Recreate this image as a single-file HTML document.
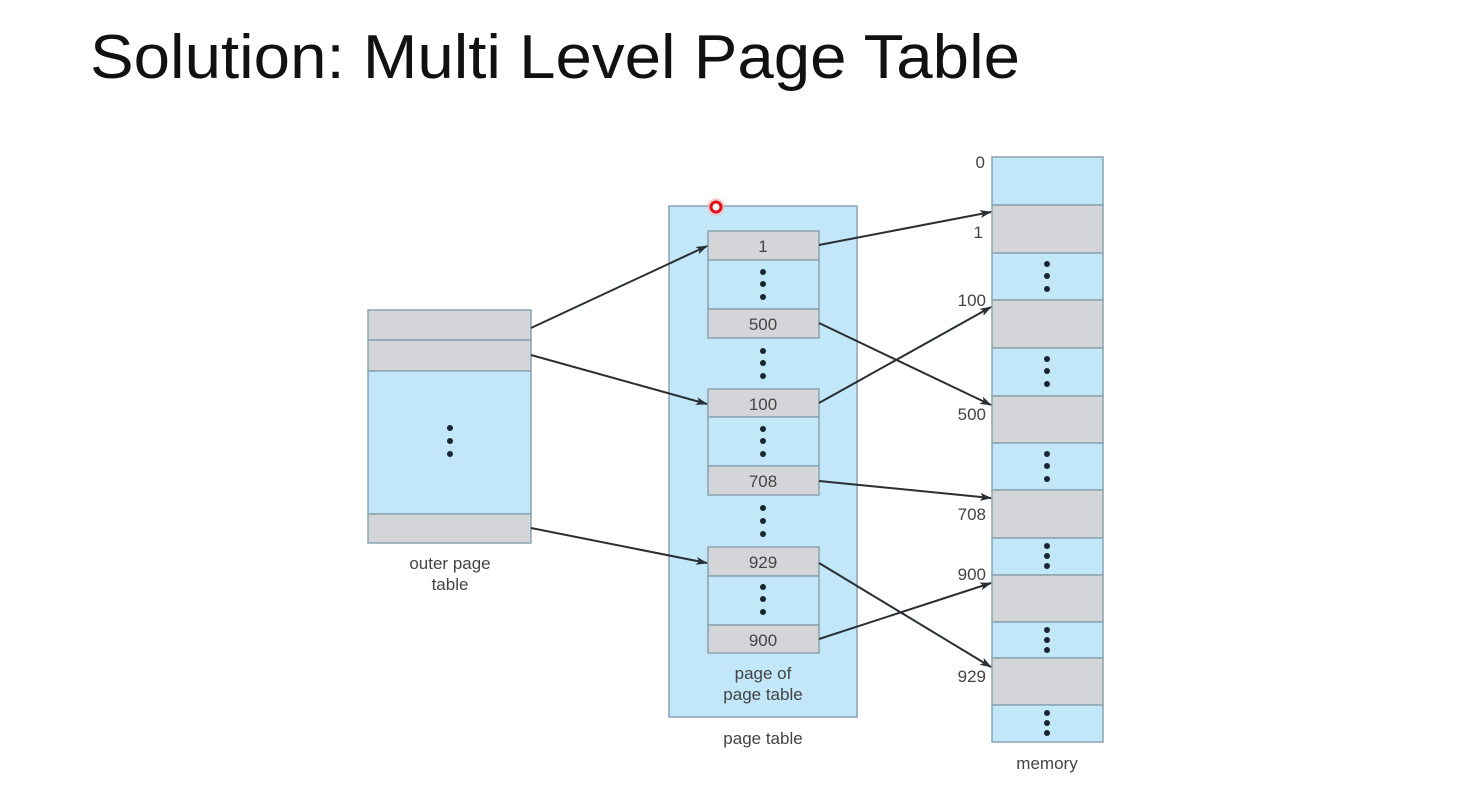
<!DOCTYPE html>
<html><head><meta charset="utf-8"><style>
html,body{margin:0;padding:0;background:#fff;}
svg{display:block;}
</style></head><body>
<svg width="1484" height="785" viewBox="0 0 1484 785" xmlns="http://www.w3.org/2000/svg" font-family="Liberation Sans, sans-serif">
<defs>
<marker id="a" markerWidth="12" markerHeight="8" refX="11" refY="4" orient="auto" markerUnits="userSpaceOnUse">
<path d="M0,0 L12,4 L0,8 L3,4 Z" fill="#2a2f33"/>
</marker>
</defs>
<text x="90" y="78" font-size="62" fill="#111" textLength="930" lengthAdjust="spacingAndGlyphs">Solution: Multi Level Page Table</text>

<g stroke="#8aa3b0" stroke-width="1.5">
<!-- outer page table -->
<rect x="368" y="310" width="163" height="30" fill="#d3d5d8"/>
<rect x="368" y="340" width="163" height="31" fill="#d3d5d8"/>
<rect x="368" y="371" width="163" height="143" fill="#c2e7f9"/>
<rect x="368" y="514" width="163" height="29" fill="#d3d5d8"/>
<!-- page table -->
<rect x="669" y="206" width="188" height="511" fill="#c2e7f9"/>
<rect x="708" y="231" width="111" height="29" fill="#d3d5d8"/>
<rect x="708" y="260" width="111" height="49" fill="#c2e7f9"/>
<rect x="708" y="309" width="111" height="29" fill="#d3d5d8"/>
<rect x="708" y="389" width="111" height="28" fill="#d3d5d8"/>
<rect x="708" y="417" width="111" height="49" fill="#c2e7f9"/>
<rect x="708" y="466" width="111" height="29" fill="#d3d5d8"/>
<rect x="708" y="547" width="111" height="29" fill="#d3d5d8"/>
<rect x="708" y="576" width="111" height="49" fill="#c2e7f9"/>
<rect x="708" y="625" width="111" height="28" fill="#d3d5d8"/>
<!-- memory -->
<rect x="992" y="157" width="111" height="48" fill="#c2e7f9"/>
<rect x="992" y="205" width="111" height="48" fill="#d3d5d8"/>
<rect x="992" y="253" width="111" height="47" fill="#c2e7f9"/>
<rect x="992" y="300" width="111" height="48" fill="#d3d5d8"/>
<rect x="992" y="348" width="111" height="48" fill="#c2e7f9"/>
<rect x="992" y="396" width="111" height="47" fill="#d3d5d8"/>
<rect x="992" y="443" width="111" height="47" fill="#c2e7f9"/>
<rect x="992" y="490" width="111" height="48" fill="#d3d5d8"/>
<rect x="992" y="538" width="111" height="37" fill="#c2e7f9"/>
<rect x="992" y="575" width="111" height="47" fill="#d3d5d8"/>
<rect x="992" y="622" width="111" height="36" fill="#c2e7f9"/>
<rect x="992" y="658" width="111" height="47" fill="#d3d5d8"/>
<rect x="992" y="705" width="111" height="37" fill="#c2e7f9"/>
</g>

<g fill="#1a2630">
<!-- dots -->
<circle cx="450" cy="428" r="3"/><circle cx="450" cy="441" r="3"/><circle cx="450" cy="454" r="3"/>
<circle cx="763" cy="272" r="3"/><circle cx="763" cy="284" r="3"/><circle cx="763" cy="297" r="3"/>
<circle cx="763" cy="351" r="3"/><circle cx="763" cy="363" r="3"/><circle cx="763" cy="376" r="3"/>
<circle cx="763" cy="429" r="3"/><circle cx="763" cy="441" r="3"/><circle cx="763" cy="454" r="3"/>
<circle cx="763" cy="508" r="3"/><circle cx="763" cy="521" r="3"/><circle cx="763" cy="534" r="3"/>
<circle cx="763" cy="587" r="3"/><circle cx="763" cy="599" r="3"/><circle cx="763" cy="612" r="3"/>
<circle cx="1047" cy="264" r="3"/><circle cx="1047" cy="276" r="3"/><circle cx="1047" cy="289" r="3"/>
<circle cx="1047" cy="359" r="3"/><circle cx="1047" cy="371" r="3"/><circle cx="1047" cy="384" r="3"/>
<circle cx="1047" cy="454" r="3"/><circle cx="1047" cy="466" r="3"/><circle cx="1047" cy="479" r="3"/>
<circle cx="1047" cy="546" r="3"/><circle cx="1047" cy="556" r="3"/><circle cx="1047" cy="566" r="3"/>
<circle cx="1047" cy="630" r="3"/><circle cx="1047" cy="640" r="3"/><circle cx="1047" cy="650" r="3"/>
<circle cx="1047" cy="713" r="3"/><circle cx="1047" cy="723" r="3"/><circle cx="1047" cy="733" r="3"/>
</g>

<g font-size="17" fill="#444" text-anchor="middle">
<text x="763" y="252">1</text>
<text x="763" y="330">500</text>
<text x="763" y="410">100</text>
<text x="763" y="487">708</text>
<text x="763" y="568">929</text>
<text x="763" y="646">900</text>
<text x="450" y="569">outer page</text>
<text x="450" y="590">table</text>
<text x="763" y="679">page of</text>
<text x="763" y="700">page table</text>
<text x="763" y="744">page table</text>
<text x="1047" y="769">memory</text>
</g>
<g font-size="17" fill="#444" text-anchor="end">
<text x="985" y="168">0</text>
<text x="983" y="238">1</text>
<text x="986" y="306">100</text>
<text x="986" y="420">500</text>
<text x="986" y="520">708</text>
<text x="986" y="580">900</text>
<text x="986" y="682">929</text>
</g>

<g stroke="#2a2f33" stroke-width="2" fill="none" marker-end="url(#a)">
<line x1="531" y1="328" x2="707" y2="246"/>
<line x1="531" y1="355" x2="707" y2="404"/>
<line x1="531" y1="528" x2="707" y2="563"/>
<line x1="819" y1="245" x2="991" y2="212"/>
<line x1="819" y1="323" x2="991" y2="405"/>
<line x1="819" y1="403" x2="991" y2="307"/>
<line x1="819" y1="481" x2="991" y2="498"/>
<line x1="819" y1="563" x2="991" y2="667"/>
<line x1="819" y1="639" x2="991" y2="583"/>
</g>

<circle cx="716" cy="207" r="9" fill="#f6b8b8" opacity="0.6"/>
<circle cx="716" cy="207" r="5" fill="#fff" stroke="#e0101a" stroke-width="3"/>
</svg>
</body></html>
